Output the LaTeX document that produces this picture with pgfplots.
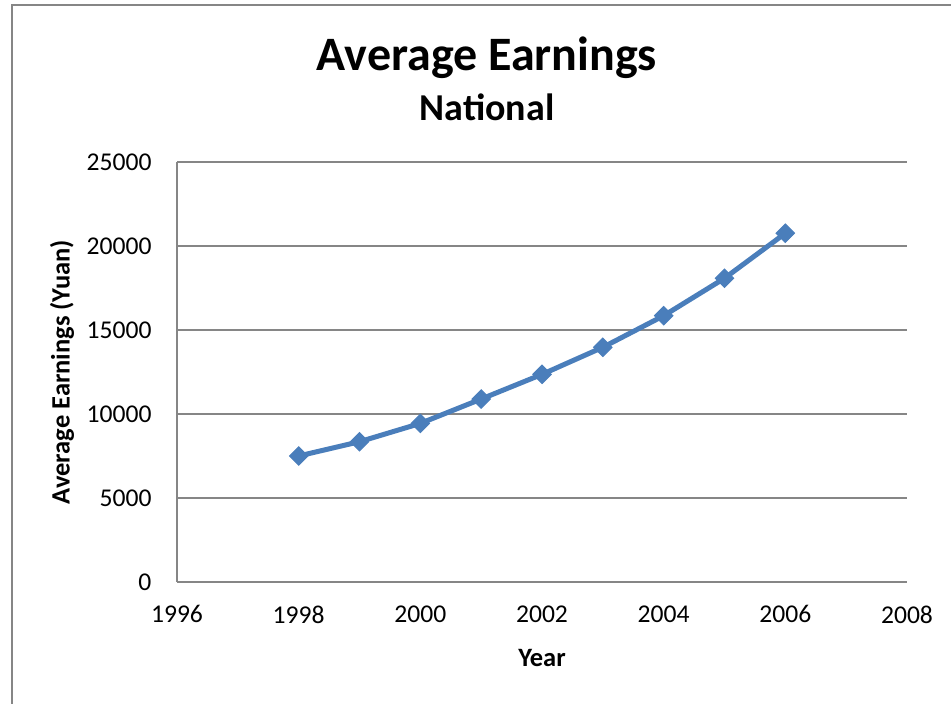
\documentclass[border=0pt]{standalone}
\usepackage{fontspec}
\setmainfont{Carlito}
\usepackage{pgfplots}
\pgfplotsset{compat=1.18}
\definecolor{ln}{RGB}{74,126,187}
\definecolor{gr}{RGB}{134,134,134}
\begin{document}
\begin{tikzpicture}[x=1pt,y=1pt]
\path[use as bounding box] (0,0) rectangle (951,704);
\draw[gr,line width=1.5pt] (12,0) -- (12,699) -- (951,699);
\node[font=\fontsize{48}{54}\selectfont\bfseries] at (487,646) {Average Earnings};
\node[font=\fontsize{38}{44}\selectfont\bfseries] at (487,597) {National};
\begin{axis}[
  at={(177pt,122pt)}, anchor=south west,
  scale only axis, width=730pt, height=420pt,
  xmin=1996, xmax=2008, ymin=0, ymax=25000,
  xtick={1996,1998,...,2008}, ytick={0,5000,...,25000},
  scaled y ticks=false,
  /pgf/number format/1000 sep={},
  /pgf/number format/assume math mode=true,
  axis lines*=left,
  axis line style={gr,line width=1.5pt},
  ymajorgrids, major grid style={gr,line width=1.5pt},
  major tick length=0pt,
  tick label style={font=\fontsize{25.6}{30}\selectfont},
  xticklabel style={yshift=-20pt},
  yticklabel style={xshift=-22pt},
  xlabel={\bfseries Year},
  ylabel={\bfseries Average Earnings (Yuan)},
  label style={font=\fontsize{26.5}{30}\selectfont},
  xlabel style={at={(axis description cs:0.5,0)},anchor=center,yshift=-76pt},
  ylabel style={at={(axis description cs:0,0.5)},anchor=center,yshift=115pt},
  clip=false,
]
\addplot[ln, line width=5pt, mark=square*, mark size=6.5pt,
  mark options={rotate=45,line width=1pt,fill=ln,draw=ln}]
  coordinates {(1998,7500) (1999,8350) (2000,9440) (2001,10890) (2002,12360)
  (2003,13970) (2004,15850) (2005,18080) (2006,20760)};
\end{axis}
\end{tikzpicture}
\end{document}
